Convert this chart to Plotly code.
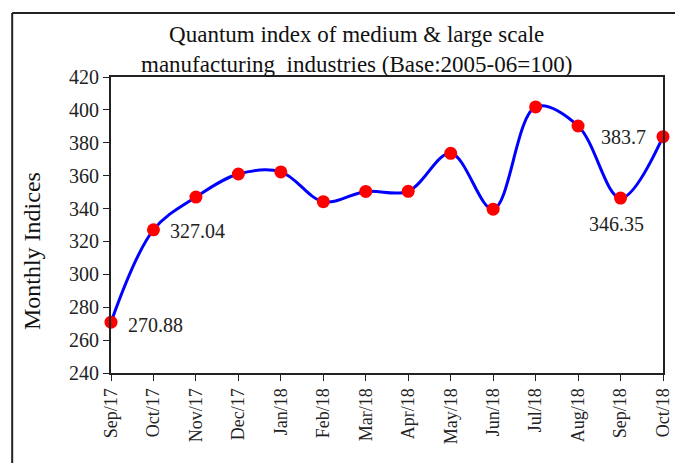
import plotly.graph_objects as go

months = ["Sep/17", "Oct/17", "Nov/17", "Dec/17", "Jan/18", "Feb/18", "Mar/18",
          "Apr/18", "May/18", "Jun/18", "Jul/18", "Aug/18", "Sep/18", "Oct/18"]
indices = [270.88, 327.04, 347.0, 361.0, 362.3, 344.2, 350.4,
           350.5, 373.6, 339.6, 401.8, 390.2, 346.35, 383.7]

# labelled points: (index, text, xshift, yshift, xanchor)
labels = [(0, "270.88", 15, -3, "left"),
          (1, "327.04", 15, -1, "left"),
          (12, "346.35", -4, -26, "center"),
          (13, "383.7", -15, 0, "right")]

font = "Liberation Serif, Times New Roman, serif"

fig = go.Figure()
fig.add_trace(go.Scatter(
    x=months,
    y=indices,
    mode="lines+markers",
    line=dict(color="#0000ff", width=3, shape="spline", smoothing=1.0),
    marker=dict(color="#ff0000", size=13),
    cliponaxis=False,
    showlegend=False,
))

for i, txt, dx, dy, anchor in labels:
    fig.add_annotation(x=months[i], y=indices[i], text=txt, showarrow=False,
                       xshift=dx, yshift=dy, xanchor=anchor,
                       font=dict(family=font, size=20, color="#222222"))

fig.add_annotation(x=0.444, y=1.092, xref="paper", yref="paper",
                   xanchor="center", yanchor="middle",
                   text="Quantum index of medium & large scale<br>manufacturing  industries (Base:2005-06=100)",
                   showarrow=False, align="center",
                   font=dict(family=font, size=23, color="#111111"))

# y axis title sits a bit below the middle of the axis
fig.add_annotation(x=-0.143, y=0.412, xref="paper", yref="paper",
                   xanchor="center", yanchor="middle", textangle=-90,
                   text="Monthly Indices", showarrow=False,
                   font=dict(family=font, size=24, color="#111111"))

# outer chart border (left and top edges visible)
fig.add_shape(type="line", xref="paper", yref="paper", x0=-0.179, x1=-0.179, y0=1.216, y1=-0.32,
              line=dict(color="#222222", width=2))
fig.add_shape(type="line", xref="paper", yref="paper", x0=-0.179, x1=1.05, y0=1.216, y1=1.216,
              line=dict(color="#222222", width=2))

fig.update_layout(
    width=675,
    height=463,
    margin=dict(l=111, r=12, t=77, b=90, autoexpand=False),
    plot_bgcolor="white",
    paper_bgcolor="white",
    font=dict(family=font, size=18, color="#222222"),
    xaxis=dict(
        type="category",
        range=[0, 13],
        tickangle=-90,
        ticks="outside",
        ticklen=6,
        tickcolor="#222222",
        showline=True,
        linecolor="#222222",
        linewidth=2,
        mirror=True,
        showgrid=False,
        automargin=False,
        tickfont=dict(size=18),
    ),
    yaxis=dict(
        range=[240, 420],
        dtick=20,
        ticks="outside",
        ticklen=6,
        tickcolor="#222222",
        showline=True,
        linecolor="#222222",
        linewidth=2,
        mirror=True,
        showgrid=False,
        zeroline=False,
        automargin=False,
        tickfont=dict(size=20),
    ),
)

# drop the page's default body margin so the figure fills the window
fig.write_html("out.html",
               config={"displayModeBar": False},
               post_script="document.body.style.margin='0';document.body.style.overflow='hidden';")
